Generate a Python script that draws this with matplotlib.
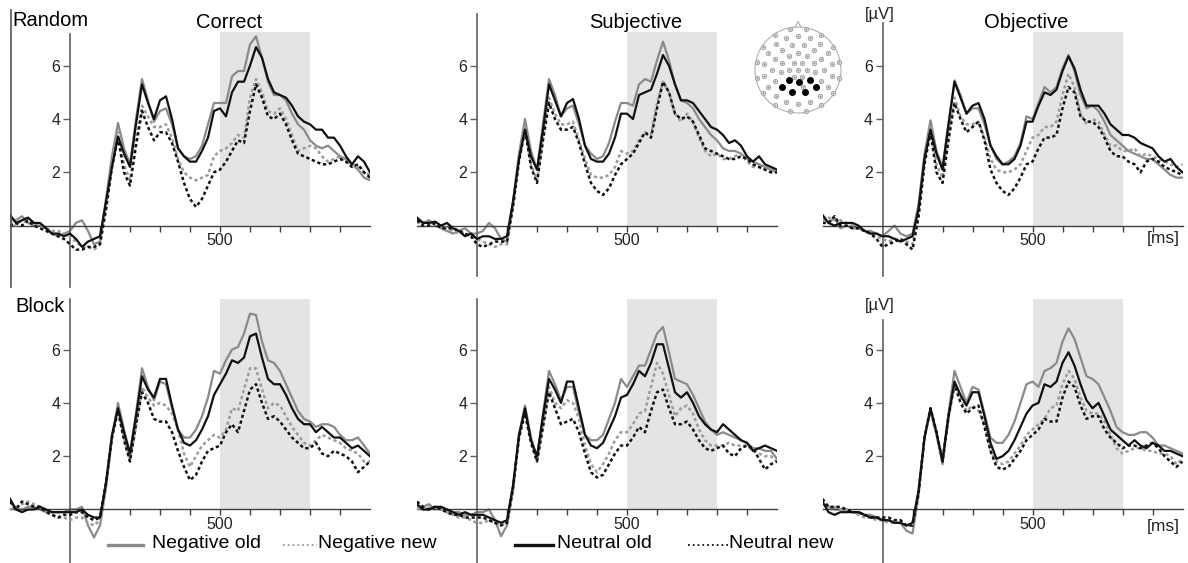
import numpy as np
import matplotlib
matplotlib.use('Agg')
import matplotlib.pyplot as plt
from matplotlib.lines import Line2D

plt.rcParams['font.family'] = ['Liberation Sans', 'DejaVu Sans']

# time axis of the sampled waveforms (ms)
t = np.arange(-200, 1001, 20)

# ---- Random / Correct
rc_neg_old = [0.3, 0.2, 0.35, 0.1, 0.0, 0.0, -0.1, -0.3, -0.4, -0.3, -0.2, 0.1, 0.2, -0.2, -0.7, -0.6,
              1.0, 2.6, 3.85, 2.9, 2.3, 4.0, 5.5, 4.7, 3.9, 4.3, 4.4, 3.8, 2.9, 2.6, 2.5, 2.6, 3.0, 3.8, 4.6,
              4.6, 4.6, 5.6, 5.8, 5.8, 6.8, 7.1, 6.3, 5.4, 4.9, 4.9, 4.7, 4.2, 3.8, 3.6, 3.2, 3.0, 2.9, 3.0,
              2.8, 2.6, 2.5, 2.3, 2.1, 1.8, 1.7]
rc_neg_new = [0.2, 0.0, 0.2, 0.1, 0.1, 0.0, -0.1, -0.2, -0.2, -0.3, -0.4, -0.6, -0.8, -0.8, -0.9, -0.7,
              0.7, 2.3, 3.5, 2.3, 1.7, 3.2, 4.5, 4.1, 3.7, 3.7, 3.8, 3.3, 2.5, 2.0, 1.8, 1.7, 1.8, 1.9, 2.6,
              2.8, 2.9, 3.1, 3.4, 3.3, 4.8, 5.5, 5.0, 4.3, 4.2, 4.4, 4.0, 3.4, 2.8, 2.9, 3.0, 2.9, 2.6, 2.4,
              2.5, 2.6, 2.4, 2.3, 2.2, 2.0, 1.9]
rc_neu_old = [0.4, 0.1, 0.2, 0.3, 0.1, 0.1, -0.1, -0.3, -0.3, -0.4, -0.3, -0.5, -0.8, -0.6, -0.5, -0.4,
              0.9, 2.2, 3.35, 2.7, 2.2, 3.8, 5.3, 4.6, 4.0, 4.7, 4.85, 4.0, 2.9, 2.6, 2.4, 2.4, 2.8, 3.3, 4.3,
              4.4, 4.1, 5.0, 5.4, 5.4, 6.0, 6.7, 6.3, 5.5, 5.0, 4.9, 4.8, 4.5, 4.1, 3.9, 3.8, 3.6, 3.6, 3.3,
              3.3, 3.0, 2.6, 2.3, 2.6, 2.4, 2.0]
rc_neu_new = [0.0, 0.1, 0.0, 0.2, 0.0, -0.1, -0.2, -0.3, -0.4, -0.5, -0.7, -0.9, -0.9, -0.8, -0.8, -0.7,
              0.6, 2.2, 3.3, 2.0, 1.5, 3.0, 4.3, 3.7, 3.2, 3.5, 3.5, 3.1, 2.4, 1.6, 1.0, 0.7, 1.0, 1.5, 2.0,
              2.1, 2.4, 2.8, 3.2, 3.1, 4.3, 5.3, 4.8, 4.1, 4.0, 4.2, 3.8, 3.2, 2.7, 2.6, 2.5, 2.4, 2.3, 2.3,
              2.4, 2.5, 2.4, 2.2, 2.3, 2.0, 1.8]

# ---- Random / Subjective
rs_neg_old = [0.2, 0.1, 0.2, 0.0, -0.1, -0.2, -0.3, -0.2, -0.1, -0.3, -0.3, -0.2, 0.1, -0.1, -0.5, -0.6,
              0.9, 2.7, 4.0, 2.8, 2.1, 3.8, 5.5, 4.9, 4.1, 4.4, 4.5, 3.8, 3.0, 2.7, 2.5, 2.6, 3.1, 3.9, 4.6,
              4.6, 4.5, 5.3, 5.5, 5.4, 6.2, 6.9, 6.2, 5.3, 4.7, 4.6, 4.4, 4.0, 3.7, 3.4, 3.2, 2.9, 2.8, 2.8,
              2.7, 2.5, 2.4, 2.3, 2.2, 2.1, 2.0]
rs_neg_new = [0.1, 0.15, 0.0, 0.1, 0.0, -0.1, -0.2, -0.3, -0.3, -0.4, -0.5, -0.6, -0.7, -0.8, -0.7, -0.7,
              0.7, 2.5, 3.7, 2.3, 1.7, 3.3, 4.8, 4.2, 3.8, 3.8, 3.9, 3.2, 2.5, 1.9, 1.8, 1.8, 1.9, 2.2, 2.8,
              2.7, 2.8, 3.2, 3.5, 3.4, 4.6, 5.4, 5.0, 4.2, 3.9, 4.2, 3.9, 3.3, 2.8, 2.6, 2.7, 2.5, 2.5, 2.6,
              2.7, 2.4, 2.2, 2.2, 2.1, 2.0, 2.0]
rs_neu_old = [0.3, 0.1, 0.1, 0.15, 0.0, 0.1, -0.1, -0.2, -0.4, -0.3, -0.5, -0.4, -0.4, -0.5, -0.5, -0.4,
              0.9, 2.5, 3.6, 2.6, 2.1, 3.6, 5.3, 4.7, 4.1, 4.6, 4.75, 4.0, 3.0, 2.5, 2.4, 2.4, 2.7, 3.3, 4.2,
              4.2, 4.0, 4.9, 5.0, 5.1, 5.7, 6.4, 6.0, 5.3, 4.7, 4.7, 4.6, 4.3, 4.0, 3.7, 3.6, 3.4, 3.1, 3.2,
              3.0, 2.6, 2.4, 2.6, 2.3, 2.2, 2.1]
rs_neu_new = [0.2, 0.0, 0.0, 0.1, -0.1, -0.1, -0.1, -0.2, -0.3, -0.4, -0.7, -0.8, -0.7, -0.6, -0.6, -0.6,
              0.7, 2.4, 3.6, 2.2, 1.6, 3.2, 4.6, 4.0, 3.6, 3.6, 3.7, 3.1, 2.3, 1.6, 1.3, 1.15, 1.4, 1.9, 2.3,
              2.5, 2.7, 3.1, 3.5, 3.3, 4.4, 5.4, 5.0, 4.2, 4.0, 4.1, 3.9, 3.4, 2.9, 2.8, 2.7, 2.6, 2.5, 2.5,
              2.6, 2.5, 2.3, 2.2, 2.1, 2.0, 2.0]

# ---- Random / Objective
ro_neg_old = [0.3, 0.1, 0.3, -0.1, 0.0, -0.1, -0.1, -0.2, -0.2, -0.3, -0.4, -0.2, 0.0, -0.3, -0.4, -0.3,
              0.8, 2.7, 3.95, 2.8, 2.2, 3.8, 5.45, 4.9, 4.2, 4.4, 4.4, 3.8, 3.0, 2.5, 2.3, 2.4, 2.6, 3.1, 4.1,
              4.0, 4.6, 5.2, 5.0, 5.2, 5.9, 6.4, 5.8, 4.9, 4.4, 4.5, 4.3, 3.9, 3.4, 3.2, 3.0, 2.8, 2.7, 2.6,
              2.5, 2.5, 2.3, 2.1, 1.9, 1.8, 1.8]
ro_neg_new = [0.2, 0.3, 0.2, 0.2, 0.1, 0.0, -0.1, -0.2, -0.3, -0.4, -0.5, -0.6, -0.5, -0.5, -0.6, -0.7,
              0.5, 2.4, 3.7, 2.3, 1.8, 3.4, 4.8, 4.1, 3.8, 3.8, 3.9, 3.3, 2.5, 2.1, 2.0, 2.0, 2.1, 2.3, 2.8,
              3.3, 3.4, 3.7, 3.7, 3.9, 4.9, 5.7, 5.2, 4.2, 3.8, 4.0, 3.9, 3.4, 3.0, 3.0, 2.8, 2.8, 2.9, 2.6,
              2.7, 2.6, 2.5, 2.4, 2.3, 2.2, 2.3]
ro_neu_old = [0.4, 0.1, 0.0, 0.1, 0.1, 0.1, 0.0, -0.2, -0.3, -0.3, -0.4, -0.4, -0.5, -0.6, -0.5, -0.4,
              0.6, 2.5, 3.6, 2.7, 2.1, 3.8, 5.4, 4.8, 4.2, 4.5, 4.6, 4.0, 3.0, 2.6, 2.3, 2.3, 2.5, 3.0, 3.9,
              3.9, 4.5, 5.0, 4.9, 5.1, 5.8, 6.35, 5.9, 5.1, 4.5, 4.5, 4.5, 4.2, 3.8, 3.6, 3.4, 3.4, 3.3, 3.1,
              3.0, 2.9, 2.6, 2.4, 2.5, 2.2, 2.0]
ro_neu_new = [0.1, 0.1, 0.35, 0.0, 0.0, -0.1, -0.1, -0.2, -0.3, -0.5, -0.8, -0.7, -0.6, -0.5, -0.7, -0.9,
              0.3, 2.3, 3.5, 2.0, 1.6, 3.2, 4.6, 4.0, 3.5, 3.7, 3.9, 3.2, 2.1, 1.6, 1.3, 1.15, 1.4, 1.8, 2.3,
              2.4, 2.9, 3.3, 3.3, 3.4, 4.4, 5.2, 5.0, 4.1, 3.9, 3.9, 3.7, 3.3, 2.8, 2.6, 2.6, 2.4, 2.3, 2.0,
              2.4, 2.5, 2.4, 2.2, 2.1, 2.0, 1.9]

# ---- Block / Correct
bc_neg_old = [0.3, 0.0, 0.0, 0.1, 0.1, 0.0, -0.1, -0.1, -0.1, -0.1, 0.0, 0.0, 0.1, -0.6, -1.05, -0.6,
              0.8, 2.7, 4.0, 3.0, 2.1, 3.6, 5.3, 4.6, 4.1, 4.8, 4.7, 3.8, 3.0, 2.7, 2.7, 3.0, 3.5, 4.2, 5.2,
              5.1, 5.6, 6.0, 6.1, 6.6, 7.35, 7.3, 6.3, 5.6, 5.5, 5.2, 4.7, 4.2, 3.7, 3.4, 3.3, 3.1, 3.2, 3.2,
              3.1, 2.8, 2.6, 2.6, 2.7, 2.4, 2.1]
bc_neg_new = [0.0, 0.1, 0.2, 0.3, 0.2, 0.1, 0.0, -0.2, -0.3, -0.3, -0.4, -0.3, -0.3, -0.5, -0.6, -0.4,
              1.0, 2.7, 3.8, 2.7, 1.9, 3.1, 4.6, 4.2, 3.9, 4.0, 3.9, 3.6, 3.0, 2.1, 1.6, 2.0, 2.4, 2.6, 2.8,
              2.7, 3.0, 3.8, 3.7, 4.5, 5.3, 5.3, 4.5, 3.8, 4.0, 3.9, 3.5, 3.1, 2.8, 2.5, 2.4, 2.6, 2.8, 2.7,
              2.6, 2.5, 2.3, 2.2, 2.1, 1.8, 1.8]
bc_neu_old = [0.4, 0.0, -0.1, 0.0, 0.0, 0.1, 0.0, -0.1, -0.1, -0.1, -0.1, -0.1, 0.0, -0.2, -0.3, -0.3,
              1.0, 2.8, 3.8, 2.9, 2.1, 3.5, 5.0, 4.5, 4.2, 4.9, 4.9, 3.9, 3.0, 2.5, 2.4, 2.6, 3.0, 3.5, 4.3,
              4.7, 5.1, 5.6, 5.5, 5.7, 6.5, 6.6, 5.7, 4.9, 4.7, 4.7, 4.3, 3.8, 3.4, 3.2, 3.2, 2.9, 3.1, 2.9,
              2.7, 2.7, 2.5, 2.3, 2.4, 2.2, 2.0]
bc_neu_new = [0.3, 0.0, 0.3, 0.2, 0.1, 0.1, -0.1, -0.2, -0.3, -0.2, -0.2, -0.1, -0.1, -0.3, -0.4, -0.3,
              1.0, 2.7, 3.7, 2.6, 1.8, 3.2, 4.4, 4.0, 3.4, 3.3, 3.3, 2.9, 2.2, 1.6, 1.1, 1.3, 1.8, 2.2, 2.3,
              2.4, 2.9, 3.2, 2.9, 3.7, 4.5, 4.7, 4.0, 3.4, 3.5, 3.3, 3.0, 2.7, 2.5, 2.3, 2.3, 2.5, 2.1, 2.0,
              2.2, 2.1, 2.0, 1.8, 1.4, 1.6, 1.8]

# ---- Block / Subjective
bs_neg_old = [0.1, 0.1, 0.2, 0.0, 0.1, 0.0, -0.1, -0.1, -0.2, -0.2, -0.1, -0.1, 0.0, -0.4, -1.0, -0.6,
              0.7, 2.8, 3.9, 2.7, 1.9, 3.6, 5.2, 4.7, 4.1, 4.6, 4.6, 3.6, 2.8, 2.6, 2.6, 2.8, 3.4, 4.0, 4.9,
              4.6, 5.0, 5.4, 5.4, 6.0, 6.6, 6.85, 5.9, 4.9, 4.8, 4.7, 4.3, 3.8, 3.3, 3.0, 2.8, 2.9, 2.8, 2.7,
              2.6, 2.5, 2.3, 2.3, 2.2, 2.2, 1.9]
bs_neg_new = [0.0, 0.1, 0.1, 0.1, 0.0, -0.1, -0.2, -0.3, -0.3, -0.4, -0.5, -0.5, -0.4, -0.5, -0.6, -0.5,
              0.8, 2.7, 3.7, 2.6, 1.8, 3.2, 4.6, 4.0, 3.8, 4.1, 4.0, 3.4, 2.4, 1.7, 1.4, 1.7, 2.1, 2.6, 2.9,
              2.9, 3.2, 3.6, 3.7, 4.6, 5.5, 5.1, 4.3, 3.5, 3.8, 3.9, 3.6, 3.0, 2.6, 2.4, 2.4, 2.4, 2.5, 2.4,
              2.4, 2.4, 2.2, 2.1, 2.0, 2.0, 1.8]
bs_neu_old = [0.2, 0.0, 0.0, 0.1, 0.1, 0.0, -0.1, -0.2, -0.1, -0.2, -0.2, -0.2, -0.3, -0.4, -0.5, -0.4,
              0.9, 2.8, 3.8, 2.6, 2.0, 3.5, 4.9, 4.5, 4.0, 4.8, 4.8, 3.8, 2.8, 2.4, 2.3, 2.5, 3.0, 3.5, 4.2,
              4.3, 4.7, 5.2, 5.0, 5.5, 6.2, 6.2, 5.3, 4.4, 4.2, 4.4, 4.0, 3.5, 3.2, 3.0, 2.9, 3.2, 3.0, 2.8,
              2.6, 2.5, 2.2, 2.3, 2.4, 2.3, 2.2]
bs_neu_new = [0.3, 0.1, 0.0, 0.1, 0.0, -0.1, -0.2, -0.2, -0.3, -0.3, -0.3, -0.3, -0.4, -0.5, -0.6, -0.5,
              0.8, 2.7, 3.6, 2.5, 1.8, 3.1, 4.4, 3.8, 3.2, 3.3, 3.4, 2.9, 2.1, 1.4, 1.2, 1.3, 1.7, 2.1, 2.4,
              2.4, 2.7, 3.1, 2.9, 3.7, 4.4, 4.5, 3.8, 3.2, 3.2, 3.3, 3.0, 2.6, 2.3, 2.2, 2.3, 2.4, 2.1, 2.0,
              2.3, 2.4, 2.3, 1.9, 1.5, 1.7, 1.8]

# ---- Block / Objective
bo_neg_old = [0.2, 0.1, 0.0, 0.0, 0.0, -0.1, -0.1, -0.2, -0.2, -0.3, -0.4, -0.4, -0.5, -0.5, -0.8, -0.9,
              0.5, 2.7, 3.7, 2.8, 1.9, 3.6, 5.2, 4.6, 4.0, 4.6, 4.5, 3.6, 2.7, 2.5, 2.5, 2.8, 3.3, 4.0, 4.7,
              4.8, 4.6, 5.2, 5.3, 5.5, 6.3, 6.8, 6.4, 5.7, 5.0, 4.9, 4.7, 4.2, 3.7, 3.1, 2.9, 2.8, 2.8, 2.9,
              2.9, 2.7, 2.4, 2.4, 2.3, 2.2, 2.1]
bo_neg_new = [0.2, 0.1, 0.1, 0.0, 0.0, -0.1, -0.2, -0.3, -0.3, -0.4, -0.4, -0.5, -0.5, -0.5, -0.6, -0.6,
              0.6, 2.7, 3.7, 2.8, 1.7, 3.4, 4.7, 4.2, 3.7, 3.9, 3.7, 3.2, 2.2, 1.8, 1.7, 1.8, 2.1, 2.4, 2.8,
              3.0, 3.2, 3.4, 3.8, 3.9, 4.7, 5.2, 4.9, 4.2, 3.7, 3.6, 3.6, 3.3, 2.8, 2.3, 2.1, 2.2, 2.3, 2.3,
              2.2, 2.2, 2.1, 2.1, 2.0, 1.7, 1.9]
bo_neu_old = [0.3, -0.1, -0.2, -0.1, -0.1, -0.1, -0.1, -0.2, -0.3, -0.3, -0.4, -0.4, -0.5, -0.5, -0.6, -0.5,
              0.7, 2.7, 3.8, 2.9, 1.8, 3.5, 4.8, 4.3, 3.9, 4.4, 4.4, 3.5, 2.5, 1.9, 2.0, 2.2, 2.6, 3.1, 3.6,
              3.9, 4.0, 4.7, 4.6, 4.8, 5.5, 5.9, 5.4, 4.7, 4.1, 3.8, 4.0, 3.5, 3.0, 2.8, 2.6, 2.4, 2.6, 2.4,
              2.3, 2.5, 2.4, 2.2, 2.2, 2.1, 2.0]
bo_neu_new = [0.4, 0.1, 0.1, 0.1, 0.0, -0.1, -0.1, -0.2, -0.3, -0.3, -0.3, -0.3, -0.4, -0.4, -0.6, -0.6,
              0.6, 2.7, 3.8, 2.9, 1.8, 3.5, 4.7, 4.0, 3.6, 3.8, 3.9, 3.1, 2.2, 1.6, 1.5, 1.6, 1.9, 2.2, 2.6,
              2.8, 3.0, 3.4, 3.3, 3.3, 4.2, 4.8, 4.6, 3.9, 3.4, 3.5, 3.5, 3.0, 2.7, 2.5, 2.3, 2.4, 2.4, 2.3,
              2.4, 2.5, 2.3, 2.0, 1.8, 1.6, 1.8]

labels = ['Negative old', 'Negative new', 'Neutral old', 'Neutral new']
col_titles = ['Correct', 'Subjective', 'Objective']
row_titles = ['Random', 'Block']

waves = [
    [[rc_neg_old, rc_neg_new, rc_neu_old, rc_neu_new],
     [rs_neg_old, rs_neg_new, rs_neu_old, rs_neu_new],
     [ro_neg_old, ro_neg_new, ro_neu_old, ro_neu_new]],
    [[bc_neg_old, bc_neg_new, bc_neu_old, bc_neu_new],
     [bs_neg_old, bs_neg_new, bs_neu_old, bs_neu_new],
     [bo_neg_old, bo_neg_new, bo_neu_old, bo_neu_new]],
]

# styles: (colour, linestyle, linewidth) per condition
dots = (0, (1.3, 1.1))
styles = [('#8a8a8a', '-', 1.6), ('#9c9c9c', dots, 1.8),
          ('#111111', '-', 1.6), ('#111111', dots, 1.8)]
draw_order = [1, 3, 0, 2]

W, H = 1188, 563
fig = plt.figure(figsize=(W / 100, H / 100), dpi=100)

# layout in pixels
zero_x = [70, 477, 882.5]
zero_y = [225.6, 509.5]
px_uv = 26.65
px_ms = 0.3
ylims = [(-2.3, 8.0), (-2.0, 8.0)]
shade_top = [7.25, 7.9]
yaxis_bounds = [[(-2.3, 7.2), (-1.9, 7.95), (-1.9, 7.6)],
                [(-2.0, 7.9), (-2.0, 7.9), (-2.0, 7.1)]]

for r in range(2):
    for c in range(3):
        y0, y1 = ylims[r]
        top_px = zero_y[r] - y1 * px_uv
        bot_px = zero_y[r] - y0 * px_uv
        left_px = zero_x[c] - 200 * px_ms
        ax = fig.add_axes([left_px / W, 1 - bot_px / H, 1200 * px_ms / W, (bot_px - top_px) / H])
        ax.set_xlim(-200, 1000)
        ax.set_ylim(y0, y1)
        ax.patch.set_alpha(0)
        ax.axvspan(500, 800, ymin=(0 - y0) / (y1 - y0), ymax=(shade_top[r] - y0) / (y1 - y0),
                   color='#e4e4e4', lw=0, zorder=0)
        for k in draw_order:
            col, ls, lw = styles[k]
            ax.plot(t, waves[r][c][k], color=col, linestyle=ls, lw=lw, zorder=2 + k,
                    solid_joinstyle='round', dash_joinstyle='round')
        for s in ['top', 'right']:
            ax.spines[s].set_visible(False)
        ax.spines['left'].set_position(('data', 0))
        ax.spines['bottom'].set_position(('data', 0))
        ax.spines['left'].set_bounds(*yaxis_bounds[r][c])
        ax.spines['left'].set_color('#606060')
        ax.spines['bottom'].set_color('#404040')
        ax.spines['left'].set_linewidth(1.2)
        ax.spines['bottom'].set_linewidth(1.0)
        ax.set_xticks(range(100, 1000, 100))
        ax.set_xticklabels(['500' if v == 500 else '' for v in range(100, 1000, 100)])
        ax.set_yticks([2, 4, 6])
        ax.set_yticklabels(['2', '4', '6'])
        ax.tick_params(axis='x', direction='out', length=4, width=1, color='#404040',
                       labelsize=11.5, labelcolor='#222222', pad=1.5)
        ax.tick_params(axis='y', direction='out', length=5, width=1, color='#606060',
                       labelsize=11.5, labelcolor='#222222', pad=2)

# titles and units
title_x = [229, 636, 1026]
for c, name in enumerate(col_titles):
    fig.text(title_x[c] / W, 1 - 22 / H, name, ha='center', va='center', fontsize=14.5)
fig.text(12 / W, 1 - 20 / H, row_titles[0], ha='left', va='center', fontsize=14.5)
fig.text(15 / W, 1 - 307 / H, row_titles[1], ha='left', va='center', fontsize=14.5)
for yy in [15, 305]:
    fig.text(880 / W, 1 - yy / H, '[µV]', ha='center', va='center', fontsize=12, color='#222222')
for yy in [238, 527]:
    fig.text(1163 / W, 1 - yy / H, '[ms]', ha='center', va='center', fontsize=12.5, color='#222222')

# left frame line
fig.add_artist(Line2D([11 / W, 11 / W], [1 - 10 / H, 1 - 287 / H], transform=fig.transFigure,
                      color='#555555', lw=1.2))

# legend
leg_lines = [(108, 143), (283, 317), (515, 553), (688, 728)]
leg_text_x = [152, 318, 557, 729]
leg_y = 545
for k, lab in enumerate(labels):
    col = styles[k][0]
    ls = '-' if k in (0, 2) else ':'
    lw = 2.4 if k in (0, 2) else 1.3
    x0, x1 = leg_lines[k]
    fig.add_artist(Line2D([x0 / W, x1 / W], [1 - leg_y / H, 1 - leg_y / H], transform=fig.transFigure,
                          color=col, linestyle=ls, lw=lw))
    fig.text(leg_text_x[k] / W, 1 - (leg_y - 1) / H, lab, ha='left', va='center', fontsize=14)

# electrode montage inset
hc_x, hc_y, hr = 798, 70, 43
hx = fig.add_axes([(hc_x - 50) / W, 1 - (hc_y + 50) / H, 100 / W, 100 / H])
lim = 50 / hr
hx.set_xlim(-lim, lim)
hx.set_ylim(-lim, lim)
hx.axis('off')
hx.add_patch(plt.Circle((0, 0), 1, fill=False, ec='#b0b0b0', lw=0.8))
hx.plot([-0.07, 0, 0.07], [0.995, 1.13, 0.995], color='#b0b0b0', lw=0.8)
roi_x = [-0.21, 0.02, 0.27, -0.37, -0.13, 0.16, 0.41]
roi_y = [-0.23, -0.29, -0.23, -0.40, -0.50, -0.50, -0.40]
ex, ey = [], []
for rad, n, off in [(0.0, 1, 0), (0.2, 6, 0.5), (0.4, 11, 0), (0.6, 14, 0.5), (0.8, 18, 0), (0.97, 16, 0.5)]:
    for i in range(n):
        a = np.pi / 2 + 2 * np.pi * (i + off) / n
        px, py = rad * np.cos(a), rad * np.sin(a)
        if min(np.hypot(px - qx, py - qy) for qx, qy in zip(roi_x, roi_y)) > 0.12:
            ex.append(px)
            ey.append(py)
hx.scatter(ex, ey, s=10, facecolor='white', edgecolor='#999999', linewidth=0.6)
hx.scatter(ex, ey, s=0.5, color='#999999')
hx.scatter(roi_x, roi_y, s=16, color='black')

fig.savefig('out.png', dpi=100)
